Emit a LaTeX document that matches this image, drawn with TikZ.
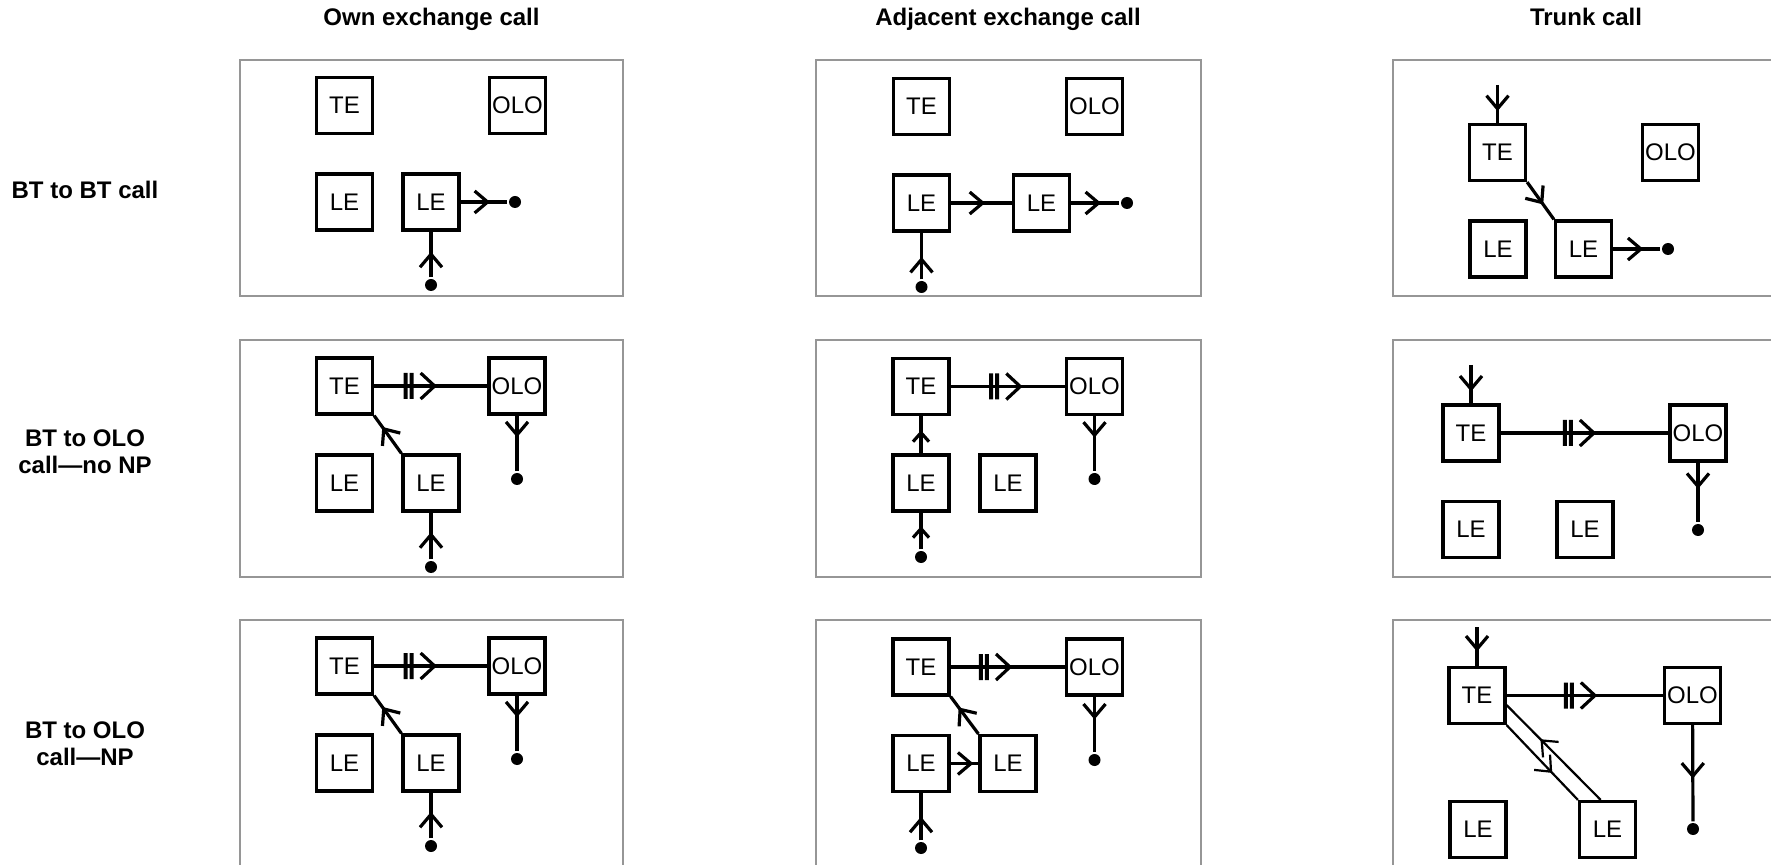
\documentclass[tikz,border=0pt]{standalone}
\usepackage{fontspec}
\setmainfont{Liberation Sans}
\usetikzlibrary{arrows.meta,decorations.markings}

\begin{document}
\begin{tikzpicture}[x=0.5pt,y=0.5pt,line width=1.6pt]
\definecolor{panelgrey}{RGB}{150,150,150}
\providecommand{\ftw}{\fontsize{12}{13.5}\selectfont}
\tikzset{panel/.style={draw=panelgrey,line width=0.7pt},exch/.style={draw=black,line width=1.6pt,minimum width=28pt,minimum height=28pt,inner sep=0pt,font=\ftw},dot/.style={circle,fill=black,inner sep=0pt,minimum size=6pt},head/.style={font=\ftw\bfseries,anchor=base},rowlab/.style={font=\ftw\bfseries,anchor=base,align=center},flow/.style={line width=1.6pt,postaction={decorate},decoration={markings,mark=at position #1 with {\arrow{Straight Barb[length=6.5pt,width=11pt]}}}},flow/.default=0.55,sflow/.style={line width=1.6pt,postaction={decorate},decoration={markings,mark=at position #1 with {\arrow{Straight Barb[length=4.5pt,width=8pt]}}}},trunkflow/.style={line width=1.6pt,postaction={decorate},decoration={markings,mark=at position #1 with {\arrow{Straight Barb[length=7pt,width=13pt]}\fill (-16.7pt,-6.5pt) rectangle (-14.7pt,6.5pt) (-13.7pt,-6.5pt) rectangle (-11.7pt,6.5pt);}}}}
\useasboundingbox (0,0) rectangle (1771,-865);
\clip (0,0) rectangle (1771,-865);
% headings
\node[head] (hown) at (431.5,-25.5) {Own exchange call};
\node[head] (hadj) at (1008,-25.5) {Adjacent exchange call};
\node[head] (htrunk) at (1586,-25.5) {Trunk call};
\node[rowlab] (rbt) at (85,-198.5) {BT to BT call};
\node[rowlab] (rnonp) at (85,-473.5) {BT to OLO\\call—no NP};
\node[rowlab] (rnp) at (85,-765.5) {BT to OLO\\call—NP};
% row 1
\draw[panel] (240,-60) rectangle (623,-296);
\node[exch] (te1) at (344.5,-105.5) {TE};
\node[exch] (olo1) at (517.5,-105.5) {OLO};
\node[exch] (lea1) at (344.5,-202) {LE};
\node[exch] (leb1) at (431,-202) {LE};
\node[dot] (d1o) at (515,-202) {};
\node[dot] (d1i) at (431,-285) {};
\draw[flow=0.56] (d1i) -- (leb1);
\draw[flow=0.63] (leb1) -- (d1o);
\draw[panel] (816,-60) rectangle (1201,-296);
\node[exch] (te2) at (921.5,-106.5) {TE};
\node[exch] (olo2) at (1094.5,-106.5) {OLO};
\node[exch] (lea2) at (921.5,-203) {LE};
\node[exch] (leb2) at (1041.5,-203) {LE};
\node[dot] (d2o) at (1127,-203) {};
\node[dot] (d2i) at (921.5,-287) {};
\draw[flow=0.48] (d2i) -- (lea2);
\draw[flow=0.56] (lea2) -- (leb2);
\draw[flow=0.62] (leb2) -- (d2o);
\draw[panel] (1393,-60) rectangle (1778,-296);
\node[exch] (te3) at (1497.5,-152.5) {TE};
\node[exch] (olo3) at (1670.5,-152.5) {OLO};
\node[exch] (lea3) at (1498,-249) {LE};
\node[exch] (leb3) at (1583.5,-249) {LE};
\node[dot] (d3o) at (1668,-249) {};
\coordinate (c3) at (1497.5,-85);
\draw[flow=0.69] (c3) -- (te3);
\draw[flow=0.6] (te3.south east) -- (leb3.north west);
\draw[flow=0.64] (leb3) -- (d3o);
% row 2
\draw[panel] (240,-340) rectangle (623,-577);
\node[exch] (te4) at (344.5,-386) {TE};
\node[exch] (olo4) at (517,-386) {OLO};
\node[exch] (lea4) at (344.5,-483) {LE};
\node[exch] (leb4) at (431,-483) {LE};
\node[dot] (d4o) at (517,-479) {};
\node[dot] (d4i) at (431,-567) {};
\draw[trunkflow=0.555] (te4) -- (olo4);
\draw[flow=0.7] (leb4.north west) -- (te4.south east);
\draw[flow=0.39] (olo4) -- (d4o);
\draw[flow=0.58] (d4i) -- (leb4);
\draw[panel] (816,-340) rectangle (1201,-577);
\node[exch] (te5) at (921,-386.5) {TE};
\node[exch] (olo5) at (1094.5,-386.5) {OLO};
\node[exch] (lea5) at (921,-483) {LE};
\node[exch] (leb5) at (1008,-483) {LE};
\node[dot] (d5o) at (1094.5,-479) {};
\node[dot] (d5i) at (921,-557) {};
\draw[trunkflow=0.63] (te5) -- (olo5);
\draw[flow=0.39] (olo5) -- (d5o);
\draw[sflow=0.62] (lea5) -- (te5);
\draw[sflow=0.63] (d5i) -- (lea5);
\draw[panel] (1393,-340) rectangle (1778,-577);
\node[exch] (te6) at (1471,-433) {TE};
\node[exch] (olo6) at (1698,-433) {OLO};
\node[exch] (lea6) at (1471,-529.5) {LE};
\node[exch] (leb6) at (1585,-529.5) {LE};
\node[dot] (d6o) at (1698,-530) {};
\coordinate (c6) at (1471,-365);
\draw[flow=0.69] (c6) -- (te6);
\draw[trunkflow=0.57] (te6) -- (olo6);
\draw[flow=0.44] (olo6) -- (d6o);
% row 3
\draw[panel] (240,-620) rectangle (623,-900);
\node[exch] (te7) at (344.5,-666) {TE};
\node[exch] (olo7) at (517,-666) {OLO};
\node[exch] (lea7) at (344.5,-763) {LE};
\node[exch] (leb7) at (431,-763) {LE};
\node[dot] (d7o) at (517,-759) {};
\node[dot] (d7i) at (431,-846) {};
\draw[trunkflow=0.555] (te7) -- (olo7);
\draw[flow=0.7] (leb7.north west) -- (te7.south east);
\draw[flow=0.39] (olo7) -- (d7o);
\draw[flow=0.58] (d7i) -- (leb7);
\draw[panel] (816,-620) rectangle (1201,-900);
\node[exch] (te8) at (921,-667) {TE};
\node[exch] (olo8) at (1094.5,-667) {OLO};
\node[exch] (lea8) at (921,-763.5) {LE};
\node[exch] (leb8) at (1008,-763.5) {LE};
\node[dot] (d8o) at (1094.5,-760) {};
\node[dot] (d8i) at (921,-848) {};
\draw[trunkflow=0.54] (te8) -- (olo8);
\draw[flow=0.41] (olo8) -- (d8o);
\draw[flow=0.71] (leb8.north west) -- (te8.south east);
\draw[flow=0.82] (lea8) -- (leb8);
\draw[flow=0.5] (d8i) -- (lea8);
\draw[panel] (1393,-620) rectangle (1778,-900);
\node[exch] (te9) at (1477,-695.5) {TE};
\node[exch] (olo9) at (1692.5,-695.5) {OLO};
\node[exch] (lea9) at (1478,-829.5) {LE};
\node[exch] (leb9) at (1607.5,-829.5) {LE};
\node[dot] (d9o) at (1693,-829) {};
\coordinate (c9) at (1477,-627);
\draw[flow=0.63] (c9) -- (te9);
\draw[trunkflow=0.58] (te9) -- (olo9);
\draw[flow=0.555] (olo9) -- (d9o);
\draw[flow=0.64,line width=1.1pt] (te9.south east) -- (leb9.north west);
\draw[flow=0.64,line width=1.1pt] (leb9.103) -- (te9.-18);
\end{tikzpicture}
\end{document}
